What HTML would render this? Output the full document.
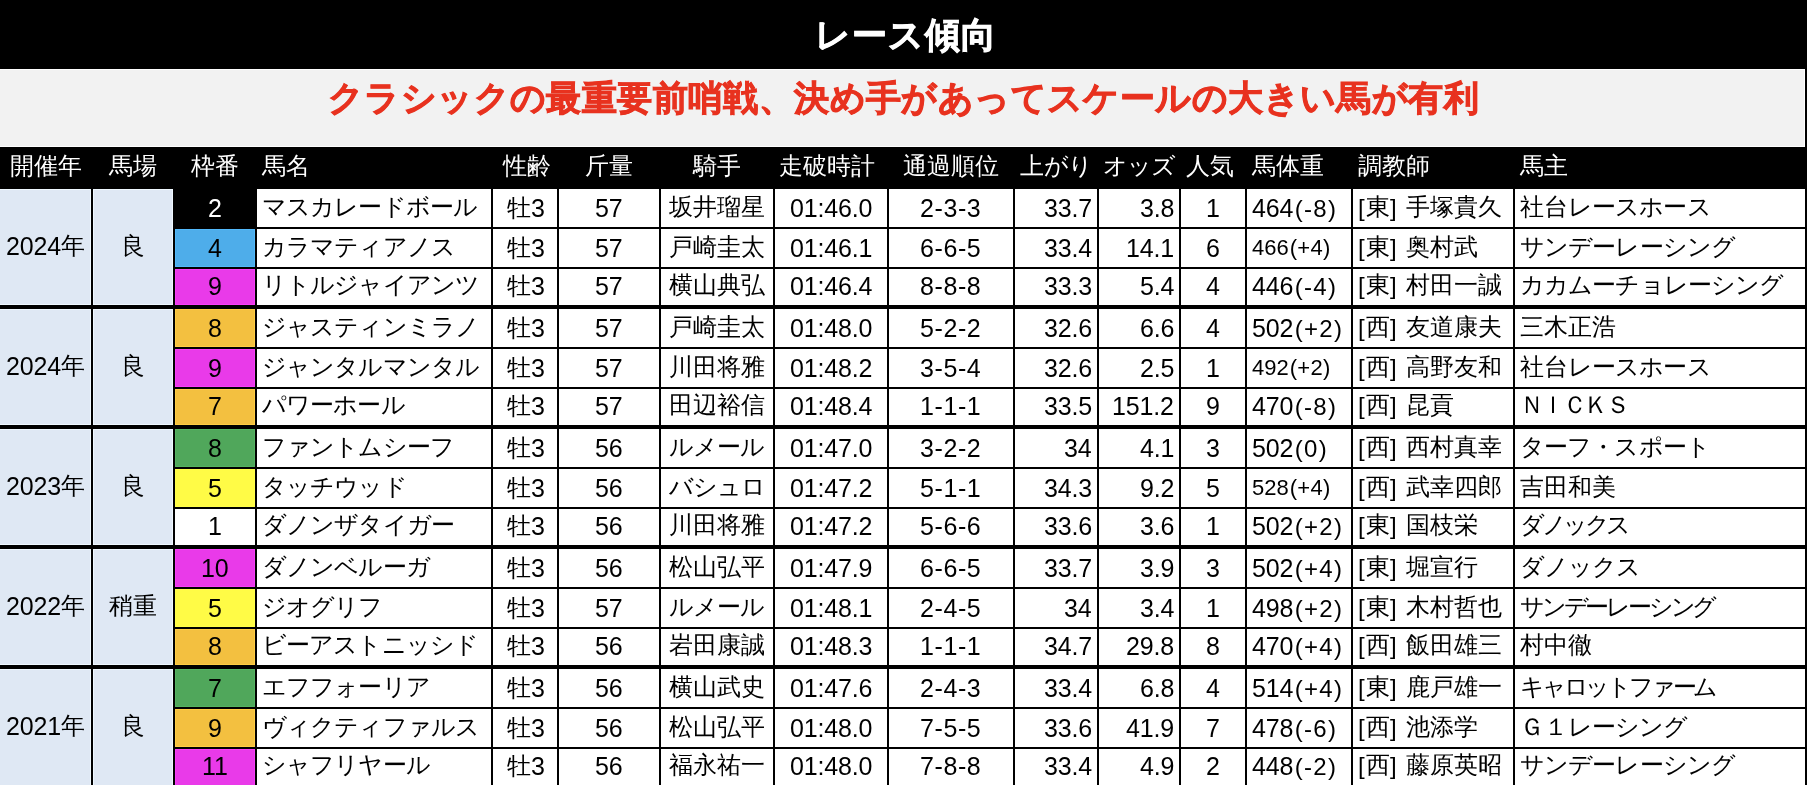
<!DOCTYPE html>
<html lang="ja"><head><meta charset="utf-8"><title>レース傾向</title>
<style>
html,body{margin:0;padding:0}
body{width:1807px;height:785px;overflow:hidden;position:relative;background:#000;
 font-family:"Liberation Sans",sans-serif;}
#title{position:absolute;left:0;top:0;width:1807px;height:69px;background:#000;color:#fff;
 font-weight:bold;font-size:35px;line-height:69px;text-align:center;text-indent:4px;letter-spacing:1px;-webkit-text-stroke:0.9px #fff}
#sub{position:absolute;left:0;top:69px;width:1804px;height:76px;border-top:1px solid #fff;border-bottom:1px solid #fff;border-right:1px solid #fff;
 background:#f2f2f2;color:#e8301f;font-weight:bold;font-size:35px;line-height:56px;text-align:center;text-indent:3px;-webkit-text-stroke:0.9px #e8321f;letter-spacing:0.4px}
.c{position:absolute;box-sizing:border-box;white-space:nowrap;overflow:hidden;font-size:24px;
 display:flex;align-items:center;line-height:1}
.c>span{will-change:transform}
#title,#sub{will-change:transform}
.ac{justify-content:center}
.al{justify-content:flex-start;padding-left:5px}
.ar{justify-content:flex-end;padding-right:5px}
.c4{padding-left:1px}
.rc{padding-bottom:2px}
.sm span{font-size:22px}
i{font-style:normal}
.j,.k{position:relative;top:-1px}
.k{letter-spacing:var(--ls,-0.9px)}
.j{letter-spacing:var(--lj,0px)}
#sub .k,#sub .j{letter-spacing:0.4px;top:0}
.n{letter-spacing:-0.15px;font-size:25px}
.sm .n{font-size:22px;letter-spacing:0}
.m .n{position:relative;top:-1px}
.yr .j{top:-2px}
.hy .n{letter-spacing:0.6px}
.br{letter-spacing:1.4px}
.pr{letter-spacing:1.3px;margin-left:1.5px}
.sm .pr{letter-spacing:0.3px;margin-left:1px}
.h span{position:relative;top:-1px}
</style></head>
<body>
<div id="title">レース傾向</div>
<div id="sub"><i class="k">クラシックの</i><i class="j">最重要前哨戦、決</i><i class="k">め</i><i class="j">手</i><i class="k">があってスケールの</i><i class="j">大</i><i class="k">きい</i><i class="j">馬</i><i class="k">が</i><i class="j">有利</i></div>
<div class="c ac h" style="left:0px;top:147px;width:91px;height:42px;color:#fff;"><span><i class="j">開催年</i></span></div>
<div class="c ac h" style="left:93px;top:147px;width:80px;height:42px;color:#fff;"><span><i class="j">馬場</i></span></div>
<div class="c ac h" style="left:175px;top:147px;width:80px;height:42px;color:#fff;"><span><i class="j">枠番</i></span></div>
<div class="c al h" style="left:257px;top:147px;width:234px;height:42px;color:#fff;"><span><i class="j">馬名</i></span></div>
<div class="c ac h" style="left:493px;top:147px;width:64px;height:42px;color:#fff;padding-left:4px;"><span><i class="j">性齢</i></span></div>
<div class="c ac h" style="left:559px;top:147px;width:100px;height:42px;color:#fff;"><span><i class="j">斤量</i></span></div>
<div class="c ac h" style="left:661px;top:147px;width:112px;height:42px;color:#fff;"><span><i class="j">騎手</i></span></div>
<div class="c ac h" style="left:775px;top:147px;width:112px;height:42px;color:#fff;padding-right:8px;"><span><i class="j">走破時計</i></span></div>
<div class="c ac h" style="left:889px;top:147px;width:124px;height:42px;color:#fff;"><span><i class="j">通過順位</i></span></div>
<div class="c ac h" style="left:1015px;top:147px;width:82px;height:42px;color:#fff;"><span><i class="j">上</i><i class="k">がり</i></span></div>
<div class="c ac h" style="left:1099px;top:147px;width:80px;height:42px;color:#fff;"><span><i class="k">オッズ</i></span></div>
<div class="c ac h" style="left:1181px;top:147px;width:64px;height:42px;color:#fff;padding-right:6px;"><span><i class="j">人気</i></span></div>
<div class="c al h" style="left:1247px;top:147px;width:104px;height:42px;color:#fff;"><span><i class="j">馬体重</i></span></div>
<div class="c al h" style="left:1353px;top:147px;width:160px;height:42px;color:#fff;"><span><i class="j">調教師</i></span></div>
<div class="c al h" style="left:1515px;top:147px;width:290px;height:42px;color:#fff;"><span><i class="j">馬主</i></span></div>
<div class="c ac m yr" style="left:0px;top:189px;width:91px;height:116px;background:#dfe8f4;box-shadow:inset 0 1px 0 0 #eff8ff,inset -1px 0 0 0 #eff8ff,inset 0 -1px 0 0 #eff8ff;"><span><i class="n">2024</i><i class="j">年</i></span></div>
<div class="c ac m" style="left:93px;top:189px;width:80px;height:116px;background:#dfe8f4;box-shadow:inset 0 1px 0 0 #eff8ff,inset -1px 0 0 0 #eff8ff,inset 1px 0 0 0 #eff8ff,inset 0 -1px 0 0 #eff8ff;"><span><i class="j">良</i></span></div>
<div class="c ac" style="left:175px;top:189px;width:80px;height:38px;background:#000000;color:#ffffff;"><span><i class="n">2</i></span></div>
<div class="c al" style="left:257px;top:189px;width:234px;height:38px;background:#fff;"><span><i class="k">マスカレードボール</i></span></div>
<div class="c ac c4" style="left:493px;top:189px;width:64px;height:38px;background:#fff;"><span><i class="j">牡</i><i class="n">3</i></span></div>
<div class="c ac" style="left:559px;top:189px;width:100px;height:38px;background:#fff;"><span><i class="n">57</i></span></div>
<div class="c ac" style="left:661px;top:189px;width:112px;height:38px;background:#fff;"><span><i class="j">坂井瑠星</i></span></div>
<div class="c ac" style="left:775px;top:189px;width:112px;height:38px;background:#fff;"><span><i class="n">01:46.0</i></span></div>
<div class="c ac hy" style="left:889px;top:189px;width:124px;height:38px;background:#fff;"><span><i class="n">2-3-3</i></span></div>
<div class="c ar" style="left:1015px;top:189px;width:82px;height:38px;background:#fff;"><span><i class="n">33.7</i></span></div>
<div class="c ar" style="left:1099px;top:189px;width:80px;height:38px;background:#fff;"><span><i class="n">3.8</i></span></div>
<div class="c ac" style="left:1181px;top:189px;width:64px;height:38px;background:#fff;"><span><i class="n">1</i></span></div>
<div class="c al" style="left:1247px;top:189px;width:104px;height:38px;background:#fff;"><span><i class="n">464</i><i class="pr">(-8)</i></span></div>
<div class="c al" style="left:1353px;top:189px;width:160px;height:38px;background:#fff;"><span><i class="br">[<i class="j">東</i>] </i><i class="j">手塚貴久</i></span></div>
<div class="c al" style="left:1515px;top:189px;width:290px;height:38px;background:#fff;"><span><i class="j">社台</i><i class="k">レースホース</i></span></div>
<div class="c ac" style="left:175px;top:229px;width:80px;height:38px;background:#4eadea;color:#000000;box-shadow:inset 0 1px 0 0 #53b9fa,inset -1px 0 0 0 #53b9fa,inset 1px 0 0 0 #53b9fa,inset 0 -1px 0 0 #53b9fa;"><span><i class="n">4</i></span></div>
<div class="c al" style="left:257px;top:229px;width:234px;height:38px;background:#fff;"><span><i class="k">カラマティアノス</i></span></div>
<div class="c ac c4" style="left:493px;top:229px;width:64px;height:38px;background:#fff;"><span><i class="j">牡</i><i class="n">3</i></span></div>
<div class="c ac" style="left:559px;top:229px;width:100px;height:38px;background:#fff;"><span><i class="n">57</i></span></div>
<div class="c ac" style="left:661px;top:229px;width:112px;height:38px;background:#fff;"><span><i class="j">戸崎圭太</i></span></div>
<div class="c ac" style="left:775px;top:229px;width:112px;height:38px;background:#fff;"><span><i class="n">01:46.1</i></span></div>
<div class="c ac hy" style="left:889px;top:229px;width:124px;height:38px;background:#fff;"><span><i class="n">6-6-5</i></span></div>
<div class="c ar" style="left:1015px;top:229px;width:82px;height:38px;background:#fff;"><span><i class="n">33.4</i></span></div>
<div class="c ar" style="left:1099px;top:229px;width:80px;height:38px;background:#fff;"><span><i class="n">14.1</i></span></div>
<div class="c ac" style="left:1181px;top:229px;width:64px;height:38px;background:#fff;"><span><i class="n">6</i></span></div>
<div class="c al sm" style="left:1247px;top:229px;width:104px;height:38px;background:#fff;"><span><i class="n">466</i><i class="pr">(+4)</i></span></div>
<div class="c al" style="left:1353px;top:229px;width:160px;height:38px;background:#fff;"><span><i class="br">[<i class="j">東</i>] </i><i class="j">奥村武</i></span></div>
<div class="c al" style="left:1515px;top:229px;width:290px;height:38px;background:#fff;"><span><i class="k">サンデーレーシング</i></span></div>
<div class="c ac rc" style="left:175px;top:269px;width:80px;height:36px;background:#e93ae9;color:#000000;box-shadow:inset 0 1px 0 0 #f93ef9,inset -1px 0 0 0 #f93ef9,inset 1px 0 0 0 #f93ef9,inset 0 -1px 0 0 #f93ef9;"><span><i class="n">9</i></span></div>
<div class="c al rc" style="left:257px;top:269px;width:234px;height:36px;background:#fff;"><span><i class="k">リトルジャイアンツ</i></span></div>
<div class="c ac c4 rc" style="left:493px;top:269px;width:64px;height:36px;background:#fff;"><span><i class="j">牡</i><i class="n">3</i></span></div>
<div class="c ac rc" style="left:559px;top:269px;width:100px;height:36px;background:#fff;"><span><i class="n">57</i></span></div>
<div class="c ac rc" style="left:661px;top:269px;width:112px;height:36px;background:#fff;"><span><i class="j">横山典弘</i></span></div>
<div class="c ac rc" style="left:775px;top:269px;width:112px;height:36px;background:#fff;"><span><i class="n">01:46.4</i></span></div>
<div class="c ac hy rc" style="left:889px;top:269px;width:124px;height:36px;background:#fff;"><span><i class="n">8-8-8</i></span></div>
<div class="c ar rc" style="left:1015px;top:269px;width:82px;height:36px;background:#fff;"><span><i class="n">33.3</i></span></div>
<div class="c ar rc" style="left:1099px;top:269px;width:80px;height:36px;background:#fff;"><span><i class="n">5.4</i></span></div>
<div class="c ac rc" style="left:1181px;top:269px;width:64px;height:36px;background:#fff;"><span><i class="n">4</i></span></div>
<div class="c al rc" style="left:1247px;top:269px;width:104px;height:36px;background:#fff;"><span><i class="n">446</i><i class="pr">(-4)</i></span></div>
<div class="c al rc" style="left:1353px;top:269px;width:160px;height:36px;background:#fff;"><span><i class="br">[<i class="j">東</i>] </i><i class="j">村田一誠</i></span></div>
<div class="c al rc" style="left:1515px;top:269px;width:290px;height:36px;background:#fff;"><span><i class="k">カカムーチョレーシング</i></span></div>
<div class="c ac m yr" style="left:0px;top:309px;width:91px;height:116px;background:#dfe8f4;box-shadow:inset 0 1px 0 0 #eff8ff,inset -1px 0 0 0 #eff8ff,inset 0 -1px 0 0 #eff8ff;"><span><i class="n">2024</i><i class="j">年</i></span></div>
<div class="c ac m" style="left:93px;top:309px;width:80px;height:116px;background:#dfe8f4;box-shadow:inset 0 1px 0 0 #eff8ff,inset -1px 0 0 0 #eff8ff,inset 1px 0 0 0 #eff8ff,inset 0 -1px 0 0 #eff8ff;"><span><i class="j">良</i></span></div>
<div class="c ac" style="left:175px;top:309px;width:80px;height:38px;background:#f3c040;color:#000000;box-shadow:inset 0 1px 0 0 #ffcd44,inset -1px 0 0 0 #ffcd44,inset 1px 0 0 0 #ffcd44,inset 0 -1px 0 0 #ffcd44;"><span><i class="n">8</i></span></div>
<div class="c al" style="left:257px;top:309px;width:234px;height:38px;background:#fff;"><span><i class="k">ジャスティンミラノ</i></span></div>
<div class="c ac c4" style="left:493px;top:309px;width:64px;height:38px;background:#fff;"><span><i class="j">牡</i><i class="n">3</i></span></div>
<div class="c ac" style="left:559px;top:309px;width:100px;height:38px;background:#fff;"><span><i class="n">57</i></span></div>
<div class="c ac" style="left:661px;top:309px;width:112px;height:38px;background:#fff;"><span><i class="j">戸崎圭太</i></span></div>
<div class="c ac" style="left:775px;top:309px;width:112px;height:38px;background:#fff;"><span><i class="n">01:48.0</i></span></div>
<div class="c ac hy" style="left:889px;top:309px;width:124px;height:38px;background:#fff;"><span><i class="n">5-2-2</i></span></div>
<div class="c ar" style="left:1015px;top:309px;width:82px;height:38px;background:#fff;"><span><i class="n">32.6</i></span></div>
<div class="c ar" style="left:1099px;top:309px;width:80px;height:38px;background:#fff;"><span><i class="n">6.6</i></span></div>
<div class="c ac" style="left:1181px;top:309px;width:64px;height:38px;background:#fff;"><span><i class="n">4</i></span></div>
<div class="c al" style="left:1247px;top:309px;width:104px;height:38px;background:#fff;"><span><i class="n">502</i><i class="pr">(+2)</i></span></div>
<div class="c al" style="left:1353px;top:309px;width:160px;height:38px;background:#fff;"><span><i class="br">[<i class="j">西</i>] </i><i class="j">友道康夫</i></span></div>
<div class="c al" style="left:1515px;top:309px;width:290px;height:38px;background:#fff;"><span><i class="j">三木正浩</i></span></div>
<div class="c ac" style="left:175px;top:349px;width:80px;height:38px;background:#e93ae9;color:#000000;box-shadow:inset 0 1px 0 0 #f93ef9,inset -1px 0 0 0 #f93ef9,inset 1px 0 0 0 #f93ef9,inset 0 -1px 0 0 #f93ef9;"><span><i class="n">9</i></span></div>
<div class="c al" style="left:257px;top:349px;width:234px;height:38px;background:#fff;"><span><i class="k">ジャンタルマンタル</i></span></div>
<div class="c ac c4" style="left:493px;top:349px;width:64px;height:38px;background:#fff;"><span><i class="j">牡</i><i class="n">3</i></span></div>
<div class="c ac" style="left:559px;top:349px;width:100px;height:38px;background:#fff;"><span><i class="n">57</i></span></div>
<div class="c ac" style="left:661px;top:349px;width:112px;height:38px;background:#fff;"><span><i class="j">川田将雅</i></span></div>
<div class="c ac" style="left:775px;top:349px;width:112px;height:38px;background:#fff;"><span><i class="n">01:48.2</i></span></div>
<div class="c ac hy" style="left:889px;top:349px;width:124px;height:38px;background:#fff;"><span><i class="n">3-5-4</i></span></div>
<div class="c ar" style="left:1015px;top:349px;width:82px;height:38px;background:#fff;"><span><i class="n">32.6</i></span></div>
<div class="c ar" style="left:1099px;top:349px;width:80px;height:38px;background:#fff;"><span><i class="n">2.5</i></span></div>
<div class="c ac" style="left:1181px;top:349px;width:64px;height:38px;background:#fff;"><span><i class="n">1</i></span></div>
<div class="c al sm" style="left:1247px;top:349px;width:104px;height:38px;background:#fff;"><span><i class="n">492</i><i class="pr">(+2)</i></span></div>
<div class="c al" style="left:1353px;top:349px;width:160px;height:38px;background:#fff;"><span><i class="br">[<i class="j">西</i>] </i><i class="j">高野友和</i></span></div>
<div class="c al" style="left:1515px;top:349px;width:290px;height:38px;background:#fff;"><span><i class="j">社台</i><i class="k">レースホース</i></span></div>
<div class="c ac rc" style="left:175px;top:389px;width:80px;height:36px;background:#f3c040;color:#000000;box-shadow:inset 0 1px 0 0 #ffcd44,inset -1px 0 0 0 #ffcd44,inset 1px 0 0 0 #ffcd44,inset 0 -1px 0 0 #ffcd44;"><span><i class="n">7</i></span></div>
<div class="c al rc" style="left:257px;top:389px;width:234px;height:36px;background:#fff;"><span><i class="k">パワーホール</i></span></div>
<div class="c ac c4 rc" style="left:493px;top:389px;width:64px;height:36px;background:#fff;"><span><i class="j">牡</i><i class="n">3</i></span></div>
<div class="c ac rc" style="left:559px;top:389px;width:100px;height:36px;background:#fff;"><span><i class="n">57</i></span></div>
<div class="c ac rc" style="left:661px;top:389px;width:112px;height:36px;background:#fff;"><span><i class="j">田辺裕信</i></span></div>
<div class="c ac rc" style="left:775px;top:389px;width:112px;height:36px;background:#fff;"><span><i class="n">01:48.4</i></span></div>
<div class="c ac hy rc" style="left:889px;top:389px;width:124px;height:36px;background:#fff;"><span><i class="n">1-1-1</i></span></div>
<div class="c ar rc" style="left:1015px;top:389px;width:82px;height:36px;background:#fff;"><span><i class="n">33.5</i></span></div>
<div class="c ar rc" style="left:1099px;top:389px;width:80px;height:36px;background:#fff;"><span><i class="n">151.2</i></span></div>
<div class="c ac rc" style="left:1181px;top:389px;width:64px;height:36px;background:#fff;"><span><i class="n">9</i></span></div>
<div class="c al rc" style="left:1247px;top:389px;width:104px;height:36px;background:#fff;"><span><i class="n">470</i><i class="pr">(-8)</i></span></div>
<div class="c al rc" style="left:1353px;top:389px;width:160px;height:36px;background:#fff;"><span><i class="br">[<i class="j">西</i>] </i><i class="j">昆貢</i></span></div>
<div class="c al rc" style="left:1515px;top:389px;width:290px;height:36px;background:#fff;--ls:-2.6px;--lj:-2.6px;"><span><i class="j">ＮＩＣＫＳ</i></span></div>
<div class="c ac m yr" style="left:0px;top:429px;width:91px;height:116px;background:#dfe8f4;box-shadow:inset 0 1px 0 0 #eff8ff,inset -1px 0 0 0 #eff8ff,inset 0 -1px 0 0 #eff8ff;"><span><i class="n">2023</i><i class="j">年</i></span></div>
<div class="c ac m" style="left:93px;top:429px;width:80px;height:116px;background:#dfe8f4;box-shadow:inset 0 1px 0 0 #eff8ff,inset -1px 0 0 0 #eff8ff,inset 1px 0 0 0 #eff8ff,inset 0 -1px 0 0 #eff8ff;"><span><i class="j">良</i></span></div>
<div class="c ac" style="left:175px;top:429px;width:80px;height:38px;background:#50a75b;color:#000000;box-shadow:inset 0 1px 0 0 #56b361,inset -1px 0 0 0 #56b361,inset 1px 0 0 0 #56b361,inset 0 -1px 0 0 #56b361;"><span><i class="n">8</i></span></div>
<div class="c al" style="left:257px;top:429px;width:234px;height:38px;background:#fff;"><span><i class="k">ファントムシーフ</i></span></div>
<div class="c ac c4" style="left:493px;top:429px;width:64px;height:38px;background:#fff;"><span><i class="j">牡</i><i class="n">3</i></span></div>
<div class="c ac" style="left:559px;top:429px;width:100px;height:38px;background:#fff;"><span><i class="n">56</i></span></div>
<div class="c ac" style="left:661px;top:429px;width:112px;height:38px;background:#fff;"><span><i class="k">ルメール</i></span></div>
<div class="c ac" style="left:775px;top:429px;width:112px;height:38px;background:#fff;"><span><i class="n">01:47.0</i></span></div>
<div class="c ac hy" style="left:889px;top:429px;width:124px;height:38px;background:#fff;"><span><i class="n">3-2-2</i></span></div>
<div class="c ar" style="left:1015px;top:429px;width:82px;height:38px;background:#fff;"><span><i class="n">34</i></span></div>
<div class="c ar" style="left:1099px;top:429px;width:80px;height:38px;background:#fff;"><span><i class="n">4.1</i></span></div>
<div class="c ac" style="left:1181px;top:429px;width:64px;height:38px;background:#fff;"><span><i class="n">3</i></span></div>
<div class="c al" style="left:1247px;top:429px;width:104px;height:38px;background:#fff;"><span><i class="n">502</i><i class="pr">(0)</i></span></div>
<div class="c al" style="left:1353px;top:429px;width:160px;height:38px;background:#fff;"><span><i class="br">[<i class="j">西</i>] </i><i class="j">西村真幸</i></span></div>
<div class="c al" style="left:1515px;top:429px;width:290px;height:38px;background:#fff;"><span><i class="k">ターフ・スポート</i></span></div>
<div class="c ac" style="left:175px;top:469px;width:80px;height:38px;background:#fffb46;color:#000000;box-shadow:inset 0 1px 0 0 #ffff4b,inset -1px 0 0 0 #ffff4b,inset 1px 0 0 0 #ffff4b,inset 0 -1px 0 0 #ffff4b;"><span><i class="n">5</i></span></div>
<div class="c al" style="left:257px;top:469px;width:234px;height:38px;background:#fff;"><span><i class="k">タッチウッド</i></span></div>
<div class="c ac c4" style="left:493px;top:469px;width:64px;height:38px;background:#fff;"><span><i class="j">牡</i><i class="n">3</i></span></div>
<div class="c ac" style="left:559px;top:469px;width:100px;height:38px;background:#fff;"><span><i class="n">56</i></span></div>
<div class="c ac" style="left:661px;top:469px;width:112px;height:38px;background:#fff;"><span><i class="k">バシュロ</i></span></div>
<div class="c ac" style="left:775px;top:469px;width:112px;height:38px;background:#fff;"><span><i class="n">01:47.2</i></span></div>
<div class="c ac hy" style="left:889px;top:469px;width:124px;height:38px;background:#fff;"><span><i class="n">5-1-1</i></span></div>
<div class="c ar" style="left:1015px;top:469px;width:82px;height:38px;background:#fff;"><span><i class="n">34.3</i></span></div>
<div class="c ar" style="left:1099px;top:469px;width:80px;height:38px;background:#fff;"><span><i class="n">9.2</i></span></div>
<div class="c ac" style="left:1181px;top:469px;width:64px;height:38px;background:#fff;"><span><i class="n">5</i></span></div>
<div class="c al sm" style="left:1247px;top:469px;width:104px;height:38px;background:#fff;"><span><i class="n">528</i><i class="pr">(+4)</i></span></div>
<div class="c al" style="left:1353px;top:469px;width:160px;height:38px;background:#fff;"><span><i class="br">[<i class="j">西</i>] </i><i class="j">武幸四郎</i></span></div>
<div class="c al" style="left:1515px;top:469px;width:290px;height:38px;background:#fff;"><span><i class="j">吉田和美</i></span></div>
<div class="c ac rc" style="left:175px;top:509px;width:80px;height:36px;background:#ffffff;color:#000000;"><span><i class="n">1</i></span></div>
<div class="c al rc" style="left:257px;top:509px;width:234px;height:36px;background:#fff;"><span><i class="k">ダノンザタイガー</i></span></div>
<div class="c ac c4 rc" style="left:493px;top:509px;width:64px;height:36px;background:#fff;"><span><i class="j">牡</i><i class="n">3</i></span></div>
<div class="c ac rc" style="left:559px;top:509px;width:100px;height:36px;background:#fff;"><span><i class="n">56</i></span></div>
<div class="c ac rc" style="left:661px;top:509px;width:112px;height:36px;background:#fff;"><span><i class="j">川田将雅</i></span></div>
<div class="c ac rc" style="left:775px;top:509px;width:112px;height:36px;background:#fff;"><span><i class="n">01:47.2</i></span></div>
<div class="c ac hy rc" style="left:889px;top:509px;width:124px;height:36px;background:#fff;"><span><i class="n">5-6-6</i></span></div>
<div class="c ar rc" style="left:1015px;top:509px;width:82px;height:36px;background:#fff;"><span><i class="n">33.6</i></span></div>
<div class="c ar rc" style="left:1099px;top:509px;width:80px;height:36px;background:#fff;"><span><i class="n">3.6</i></span></div>
<div class="c ac rc" style="left:1181px;top:509px;width:64px;height:36px;background:#fff;"><span><i class="n">1</i></span></div>
<div class="c al rc" style="left:1247px;top:509px;width:104px;height:36px;background:#fff;"><span><i class="n">502</i><i class="pr">(+2)</i></span></div>
<div class="c al rc" style="left:1353px;top:509px;width:160px;height:36px;background:#fff;"><span><i class="br">[<i class="j">東</i>] </i><i class="j">国枝栄</i></span></div>
<div class="c al rc" style="left:1515px;top:509px;width:290px;height:36px;background:#fff;--ls:-3.4px;--lj:-3.4px;"><span><i class="k">ダノックス</i></span></div>
<div class="c ac m yr" style="left:0px;top:549px;width:91px;height:116px;background:#dfe8f4;box-shadow:inset 0 1px 0 0 #eff8ff,inset -1px 0 0 0 #eff8ff,inset 0 -1px 0 0 #eff8ff;"><span><i class="n">2022</i><i class="j">年</i></span></div>
<div class="c ac m" style="left:93px;top:549px;width:80px;height:116px;background:#dfe8f4;box-shadow:inset 0 1px 0 0 #eff8ff,inset -1px 0 0 0 #eff8ff,inset 1px 0 0 0 #eff8ff,inset 0 -1px 0 0 #eff8ff;"><span><i class="j">稍重</i></span></div>
<div class="c ac" style="left:175px;top:549px;width:80px;height:38px;background:#e93ae9;color:#000000;box-shadow:inset 0 1px 0 0 #f93ef9,inset -1px 0 0 0 #f93ef9,inset 1px 0 0 0 #f93ef9,inset 0 -1px 0 0 #f93ef9;"><span><i class="n">10</i></span></div>
<div class="c al" style="left:257px;top:549px;width:234px;height:38px;background:#fff;"><span><i class="k">ダノンベルーガ</i></span></div>
<div class="c ac c4" style="left:493px;top:549px;width:64px;height:38px;background:#fff;"><span><i class="j">牡</i><i class="n">3</i></span></div>
<div class="c ac" style="left:559px;top:549px;width:100px;height:38px;background:#fff;"><span><i class="n">56</i></span></div>
<div class="c ac" style="left:661px;top:549px;width:112px;height:38px;background:#fff;"><span><i class="j">松山弘平</i></span></div>
<div class="c ac" style="left:775px;top:549px;width:112px;height:38px;background:#fff;"><span><i class="n">01:47.9</i></span></div>
<div class="c ac hy" style="left:889px;top:549px;width:124px;height:38px;background:#fff;"><span><i class="n">6-6-5</i></span></div>
<div class="c ar" style="left:1015px;top:549px;width:82px;height:38px;background:#fff;"><span><i class="n">33.7</i></span></div>
<div class="c ar" style="left:1099px;top:549px;width:80px;height:38px;background:#fff;"><span><i class="n">3.9</i></span></div>
<div class="c ac" style="left:1181px;top:549px;width:64px;height:38px;background:#fff;"><span><i class="n">3</i></span></div>
<div class="c al" style="left:1247px;top:549px;width:104px;height:38px;background:#fff;"><span><i class="n">502</i><i class="pr">(+4)</i></span></div>
<div class="c al" style="left:1353px;top:549px;width:160px;height:38px;background:#fff;"><span><i class="br">[<i class="j">東</i>] </i><i class="j">堀宣行</i></span></div>
<div class="c al" style="left:1515px;top:549px;width:290px;height:38px;background:#fff;--ls:-1.1px;--lj:-1.1px;"><span><i class="k">ダノックス</i></span></div>
<div class="c ac" style="left:175px;top:589px;width:80px;height:38px;background:#fffb46;color:#000000;box-shadow:inset 0 1px 0 0 #ffff4b,inset -1px 0 0 0 #ffff4b,inset 1px 0 0 0 #ffff4b,inset 0 -1px 0 0 #ffff4b;"><span><i class="n">5</i></span></div>
<div class="c al" style="left:257px;top:589px;width:234px;height:38px;background:#fff;"><span><i class="k">ジオグリフ</i></span></div>
<div class="c ac c4" style="left:493px;top:589px;width:64px;height:38px;background:#fff;"><span><i class="j">牡</i><i class="n">3</i></span></div>
<div class="c ac" style="left:559px;top:589px;width:100px;height:38px;background:#fff;"><span><i class="n">57</i></span></div>
<div class="c ac" style="left:661px;top:589px;width:112px;height:38px;background:#fff;"><span><i class="k">ルメール</i></span></div>
<div class="c ac" style="left:775px;top:589px;width:112px;height:38px;background:#fff;"><span><i class="n">01:48.1</i></span></div>
<div class="c ac hy" style="left:889px;top:589px;width:124px;height:38px;background:#fff;"><span><i class="n">2-4-5</i></span></div>
<div class="c ar" style="left:1015px;top:589px;width:82px;height:38px;background:#fff;"><span><i class="n">34</i></span></div>
<div class="c ar" style="left:1099px;top:589px;width:80px;height:38px;background:#fff;"><span><i class="n">3.4</i></span></div>
<div class="c ac" style="left:1181px;top:589px;width:64px;height:38px;background:#fff;"><span><i class="n">1</i></span></div>
<div class="c al" style="left:1247px;top:589px;width:104px;height:38px;background:#fff;"><span><i class="n">498</i><i class="pr">(+2)</i></span></div>
<div class="c al" style="left:1353px;top:589px;width:160px;height:38px;background:#fff;"><span><i class="br">[<i class="j">東</i>] </i><i class="j">木村哲也</i></span></div>
<div class="c al" style="left:1515px;top:589px;width:290px;height:38px;background:#fff;--ls:-3.2px;--lj:-3.2px;"><span><i class="k">サンデーレーシング</i></span></div>
<div class="c ac rc" style="left:175px;top:629px;width:80px;height:36px;background:#f3c040;color:#000000;box-shadow:inset 0 1px 0 0 #ffcd44,inset -1px 0 0 0 #ffcd44,inset 1px 0 0 0 #ffcd44,inset 0 -1px 0 0 #ffcd44;"><span><i class="n">8</i></span></div>
<div class="c al rc" style="left:257px;top:629px;width:234px;height:36px;background:#fff;"><span><i class="k">ビーアストニッシド</i></span></div>
<div class="c ac c4 rc" style="left:493px;top:629px;width:64px;height:36px;background:#fff;"><span><i class="j">牡</i><i class="n">3</i></span></div>
<div class="c ac rc" style="left:559px;top:629px;width:100px;height:36px;background:#fff;"><span><i class="n">56</i></span></div>
<div class="c ac rc" style="left:661px;top:629px;width:112px;height:36px;background:#fff;"><span><i class="j">岩田康誠</i></span></div>
<div class="c ac rc" style="left:775px;top:629px;width:112px;height:36px;background:#fff;"><span><i class="n">01:48.3</i></span></div>
<div class="c ac hy rc" style="left:889px;top:629px;width:124px;height:36px;background:#fff;"><span><i class="n">1-1-1</i></span></div>
<div class="c ar rc" style="left:1015px;top:629px;width:82px;height:36px;background:#fff;"><span><i class="n">34.7</i></span></div>
<div class="c ar rc" style="left:1099px;top:629px;width:80px;height:36px;background:#fff;"><span><i class="n">29.8</i></span></div>
<div class="c ac rc" style="left:1181px;top:629px;width:64px;height:36px;background:#fff;"><span><i class="n">8</i></span></div>
<div class="c al rc" style="left:1247px;top:629px;width:104px;height:36px;background:#fff;"><span><i class="n">470</i><i class="pr">(+4)</i></span></div>
<div class="c al rc" style="left:1353px;top:629px;width:160px;height:36px;background:#fff;"><span><i class="br">[<i class="j">西</i>] </i><i class="j">飯田雄三</i></span></div>
<div class="c al rc" style="left:1515px;top:629px;width:290px;height:36px;background:#fff;"><span><i class="j">村中徹</i></span></div>
<div class="c ac m yr" style="left:0px;top:669px;width:91px;height:116px;background:#dfe8f4;box-shadow:inset 0 1px 0 0 #eff8ff,inset -1px 0 0 0 #eff8ff;"><span><i class="n">2021</i><i class="j">年</i></span></div>
<div class="c ac m" style="left:93px;top:669px;width:80px;height:116px;background:#dfe8f4;box-shadow:inset 0 1px 0 0 #eff8ff,inset -1px 0 0 0 #eff8ff,inset 1px 0 0 0 #eff8ff;"><span><i class="j">良</i></span></div>
<div class="c ac" style="left:175px;top:669px;width:80px;height:38px;background:#50a75b;color:#000000;box-shadow:inset 0 1px 0 0 #56b361,inset -1px 0 0 0 #56b361,inset 1px 0 0 0 #56b361,inset 0 -1px 0 0 #56b361;"><span><i class="n">7</i></span></div>
<div class="c al" style="left:257px;top:669px;width:234px;height:38px;background:#fff;"><span><i class="k">エフフォーリア</i></span></div>
<div class="c ac c4" style="left:493px;top:669px;width:64px;height:38px;background:#fff;"><span><i class="j">牡</i><i class="n">3</i></span></div>
<div class="c ac" style="left:559px;top:669px;width:100px;height:38px;background:#fff;"><span><i class="n">56</i></span></div>
<div class="c ac" style="left:661px;top:669px;width:112px;height:38px;background:#fff;"><span><i class="j">横山武史</i></span></div>
<div class="c ac" style="left:775px;top:669px;width:112px;height:38px;background:#fff;"><span><i class="n">01:47.6</i></span></div>
<div class="c ac hy" style="left:889px;top:669px;width:124px;height:38px;background:#fff;"><span><i class="n">2-4-3</i></span></div>
<div class="c ar" style="left:1015px;top:669px;width:82px;height:38px;background:#fff;"><span><i class="n">33.4</i></span></div>
<div class="c ar" style="left:1099px;top:669px;width:80px;height:38px;background:#fff;"><span><i class="n">6.8</i></span></div>
<div class="c ac" style="left:1181px;top:669px;width:64px;height:38px;background:#fff;"><span><i class="n">4</i></span></div>
<div class="c al" style="left:1247px;top:669px;width:104px;height:38px;background:#fff;"><span><i class="n">514</i><i class="pr">(+4)</i></span></div>
<div class="c al" style="left:1353px;top:669px;width:160px;height:38px;background:#fff;"><span><i class="br">[<i class="j">東</i>] </i><i class="j">鹿戸雄一</i></span></div>
<div class="c al" style="left:1515px;top:669px;width:290px;height:38px;background:#fff;--ls:-3.2px;--lj:-3.2px;"><span><i class="k">キャロットファーム</i></span></div>
<div class="c ac" style="left:175px;top:709px;width:80px;height:38px;background:#f3c040;color:#000000;box-shadow:inset 0 1px 0 0 #ffcd44,inset -1px 0 0 0 #ffcd44,inset 1px 0 0 0 #ffcd44,inset 0 -1px 0 0 #ffcd44;"><span><i class="n">9</i></span></div>
<div class="c al" style="left:257px;top:709px;width:234px;height:38px;background:#fff;"><span><i class="k">ヴィクティファルス</i></span></div>
<div class="c ac c4" style="left:493px;top:709px;width:64px;height:38px;background:#fff;"><span><i class="j">牡</i><i class="n">3</i></span></div>
<div class="c ac" style="left:559px;top:709px;width:100px;height:38px;background:#fff;"><span><i class="n">56</i></span></div>
<div class="c ac" style="left:661px;top:709px;width:112px;height:38px;background:#fff;"><span><i class="j">松山弘平</i></span></div>
<div class="c ac" style="left:775px;top:709px;width:112px;height:38px;background:#fff;"><span><i class="n">01:48.0</i></span></div>
<div class="c ac hy" style="left:889px;top:709px;width:124px;height:38px;background:#fff;"><span><i class="n">7-5-5</i></span></div>
<div class="c ar" style="left:1015px;top:709px;width:82px;height:38px;background:#fff;"><span><i class="n">33.6</i></span></div>
<div class="c ar" style="left:1099px;top:709px;width:80px;height:38px;background:#fff;"><span><i class="n">41.9</i></span></div>
<div class="c ac" style="left:1181px;top:709px;width:64px;height:38px;background:#fff;"><span><i class="n">7</i></span></div>
<div class="c al" style="left:1247px;top:709px;width:104px;height:38px;background:#fff;"><span><i class="n">478</i><i class="pr">(-6)</i></span></div>
<div class="c al" style="left:1353px;top:709px;width:160px;height:38px;background:#fff;"><span><i class="br">[<i class="j">西</i>] </i><i class="j">池添学</i></span></div>
<div class="c al" style="left:1515px;top:709px;width:290px;height:38px;background:#fff;"><span><i class="j">Ｇ１</i><i class="k">レーシング</i></span></div>
<div class="c ac rc" style="left:175px;top:749px;width:80px;height:36px;background:#e93ae9;color:#000000;box-shadow:inset 0 1px 0 0 #f93ef9,inset -1px 0 0 0 #f93ef9,inset 1px 0 0 0 #f93ef9;"><span><i class="n">11</i></span></div>
<div class="c al rc" style="left:257px;top:749px;width:234px;height:36px;background:#fff;"><span><i class="k">シャフリヤール</i></span></div>
<div class="c ac c4 rc" style="left:493px;top:749px;width:64px;height:36px;background:#fff;"><span><i class="j">牡</i><i class="n">3</i></span></div>
<div class="c ac rc" style="left:559px;top:749px;width:100px;height:36px;background:#fff;"><span><i class="n">56</i></span></div>
<div class="c ac rc" style="left:661px;top:749px;width:112px;height:36px;background:#fff;"><span><i class="j">福永祐一</i></span></div>
<div class="c ac rc" style="left:775px;top:749px;width:112px;height:36px;background:#fff;"><span><i class="n">01:48.0</i></span></div>
<div class="c ac hy rc" style="left:889px;top:749px;width:124px;height:36px;background:#fff;"><span><i class="n">7-8-8</i></span></div>
<div class="c ar rc" style="left:1015px;top:749px;width:82px;height:36px;background:#fff;"><span><i class="n">33.4</i></span></div>
<div class="c ar rc" style="left:1099px;top:749px;width:80px;height:36px;background:#fff;"><span><i class="n">4.9</i></span></div>
<div class="c ac rc" style="left:1181px;top:749px;width:64px;height:36px;background:#fff;"><span><i class="n">2</i></span></div>
<div class="c al rc" style="left:1247px;top:749px;width:104px;height:36px;background:#fff;"><span><i class="n">448</i><i class="pr">(-2)</i></span></div>
<div class="c al rc" style="left:1353px;top:749px;width:160px;height:36px;background:#fff;"><span><i class="br">[<i class="j">西</i>] </i><i class="j">藤原英昭</i></span></div>
<div class="c al rc" style="left:1515px;top:749px;width:290px;height:36px;background:#fff;"><span><i class="k">サンデーレーシング</i></span></div>
</body></html>
